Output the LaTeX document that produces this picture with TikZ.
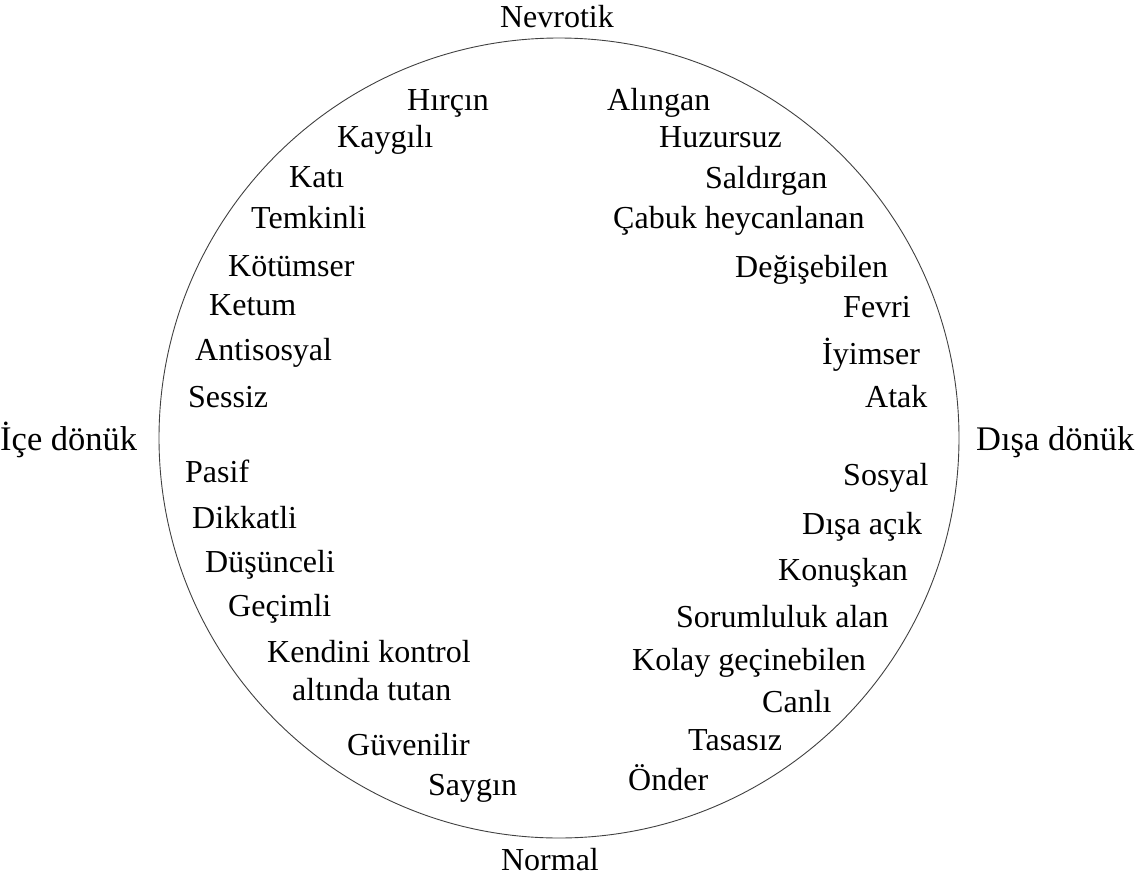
\documentclass[tikz,border=0pt]{standalone}
\usepackage{fontspec}
\setmainfont{Liberation Serif}
\begin{document}
\begin{tikzpicture}[x=1pt,y=-1pt,
  lbl/.style={anchor=base west,inner sep=0pt,font=\fontsize{32}{38}\selectfont},
  lblc/.style={anchor=base,inner sep=0pt,font=\fontsize{32}{38}\selectfont},
  side/.style={anchor=base west,inner sep=0pt,font=\fontsize{34.5}{40}\selectfont}]
\useasboundingbox (0,0) rectangle (1136,879);
\draw[line width=0.9pt,black!75] (559,438) circle[radius=400];
\node[lblc] (nev) at (557,27) {Nevrotik};
\node[lblc] (nor) at (550,870) {Normal};
\node[side] (ice) at (0,450) {İçe dönük};
\node[side] (disa) at (976,450) {Dışa dönük};
% left
\node[lbl] (l1) at (407,110) {Hırçın};
\node[lbl] (l2) at (337,147) {Kaygılı};
\node[lbl] (l3) at (289,187) {Katı};
\node[lbl] (l4) at (251,228) {Temkinli};
\node[lbl] (l5) at (228,276) {Kötümser};
\node[lbl] (l6) at (209,315) {Ketum};
\node[lbl] (l7) at (195,360) {Antisosyal};
\node[lbl] (l8) at (188,407) {Sessiz};
\node[lbl] (l9) at (185,482) {Pasif};
\node[lbl] (l10) at (192,528) {Dikkatli};
\node[lbl] (l11) at (205,572) {Düşünceli};
\node[lbl] (l12) at (228,616) {Geçimli};
\node[lbl] (l13) at (267,662) {Kendini kontrol};
\node[lbl] (l13b) at (292,700) {altında tutan};
\node[lbl] (l14) at (347,755) {Güvenilir};
\node[lbl] (l15) at (428,795) {Saygın};
% right
\node[lbl] (r1) at (607,110) {Alıngan};
\node[lbl] (r2) at (659,147) {Huzursuz};
\node[lbl] (r3) at (705,188) {Saldırgan};
\node[lbl] (r4) at (613,228) {Çabuk heycanlanan};
\node[lbl] (r5) at (735,277) {Değişebilen};
\node[lbl] (r6) at (843,317) {Fevri};
\node[lbl] (r7) at (822,364) {İyimser};
\node[lbl] (r8) at (865,407) {Atak};
\node[lbl] (r9) at (843,485) {Sosyal};
\node[lbl] (r10) at (802,534) {Dışa açık};
\node[lbl] (r11) at (778,580) {Konuşkan};
\node[lbl] (r12) at (676,627) {Sorumluluk alan};
\node[lbl] (r13) at (632,670) {Kolay geçinebilen};
\node[lbl] (r14) at (762,712) {Canlı};
\node[lbl] (r15) at (688,750) {Tasasız};
\node[lbl] (r16) at (628,790) {Önder};
\end{tikzpicture}
\end{document}
